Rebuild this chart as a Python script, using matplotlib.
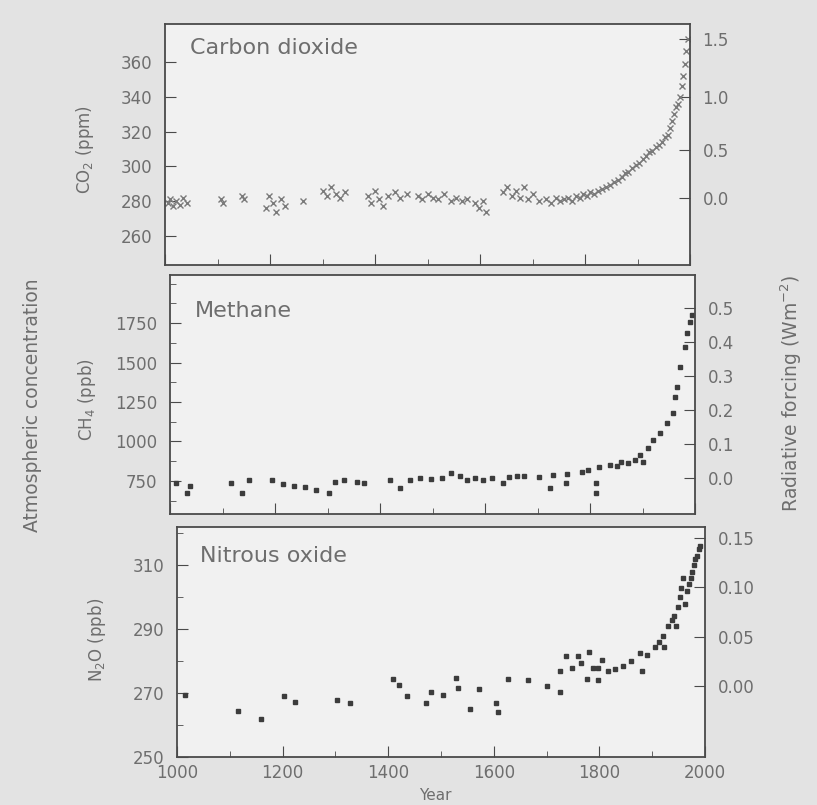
import numpy as np
import matplotlib
matplotlib.use("Agg")
import matplotlib.pyplot as plt
from matplotlib.ticker import MultipleLocator, FormatStrFormatter

# CO2 (ppm)
co2_year = [1005, 1010, 1015, 1020, 1028, 1035, 1042, 1106, 1110, 1147,
            1150, 1192, 1198, 1205, 1212, 1220, 1228, 1263, 1300, 1308,
            1316, 1325, 1333, 1342, 1386, 1393, 1400, 1408, 1415, 1425,
            1438, 1447, 1460, 1481, 1490, 1500, 1510, 1520, 1532, 1545,
            1555, 1565, 1575, 1590, 1598, 1605, 1612, 1644, 1652, 1660,
            1668, 1676, 1684, 1692, 1700, 1712, 1726, 1735, 1745, 1752,
            1760, 1768, 1775, 1782, 1790, 1797, 1803, 1810, 1818, 1825,
            1832, 1840, 1848, 1855, 1862, 1870, 1876, 1882, 1890, 1897,
            1903, 1910, 1916, 1922, 1928, 1935, 1940, 1946, 1952, 1958,
            1962, 1966, 1970, 1974, 1978, 1981, 1984, 1987, 1990, 1993, 1996]
co2_ppm = [279, 281, 277, 280, 278, 282, 279, 281, 279, 283,
           281, 276, 283, 279, 274, 281, 277, 280, 286, 283,
           288, 284, 282, 285, 283, 279, 286, 281, 277, 283,
           285, 282, 284, 283, 281, 284, 282, 281, 284, 280,
           282, 280, 281, 279, 276, 280, 274, 285, 288, 283,
           286, 282, 288, 281, 284, 280, 281, 279, 282, 280,
           281, 282, 280, 283, 282, 284, 283, 285, 284, 286,
           287, 288, 289, 291, 292, 294, 296, 297, 299, 301,
           302, 304, 306, 308, 309, 311, 312, 314, 317, 318,
           322, 326, 330, 334, 336, 340, 346, 352, 359, 366, 373]

# CH4 (ppb), middle panel
ch4_year = [1011, 1039, 1032, 1117, 1137, 1151, 1195, 1216, 1237, 1257,
            1278, 1302, 1315, 1332, 1356, 1370, 1419, 1439, 1457, 1477,
            1498, 1518, 1535, 1552, 1566, 1580, 1597, 1614, 1634, 1645,
            1661, 1675, 1702, 1723, 1730, 1754, 1757, 1784, 1797, 1811,
            1812, 1818, 1839, 1852, 1859, 1872, 1886, 1896, 1900, 1910,
            1920, 1934, 1947, 1958, 1961, 1965, 1972, 1980, 1985, 1990, 1995]
ch4_ppb = [738, 715, 672, 735, 672, 756, 756, 731, 718, 710,
           689, 676, 741, 754, 741, 735, 754, 706, 756, 767,
           760, 767, 798, 781, 756, 767, 754, 767, 735, 777,
           781, 781, 777, 706, 788, 735, 794, 809, 820, 735,
           672, 837, 851, 845, 872, 862, 883, 914, 872, 960,
           1010, 1052, 1115, 1178, 1284, 1347, 1474, 1600, 1690, 1760, 1800]

# N2O (ppb), bottom panel
n2o_year = [1016, 1115, 1159, 1203, 1224, 1303, 1328, 1410, 1421, 1435,
            1471, 1482, 1504, 1529, 1532, 1554, 1572, 1604, 1608, 1626,
            1665, 1701, 1726, 1726, 1737, 1748, 1759, 1766, 1777, 1780,
            1788, 1798, 1798, 1805, 1816, 1830, 1845, 1859, 1877, 1880,
            1891, 1906, 1913, 1920, 1923, 1930, 1938, 1941, 1945, 1948,
            1952, 1955, 1959, 1962, 1966, 1970, 1973, 1976, 1979, 1982,
            1985, 1988, 1991]
n2o_ppb = [269.5, 264.5, 261.8, 269, 267.2, 267.7, 266.8, 274.3, 272.5, 269.2,
           267, 270.5, 269.5, 274.7, 271.5, 265, 271.2, 267, 264, 274.3,
           274, 272.2, 270.5, 277, 281.5, 278, 281.5, 279.5, 274.5, 283,
           278, 278, 274, 280.5, 277, 277.5, 278.5, 280, 282.5, 277,
           282, 284.5, 286, 288, 284.5, 291, 293, 294, 291, 297,
           300, 303, 306, 298, 302, 304, 306, 308, 310, 312,
           313, 315, 316]

fig = plt.figure(figsize=(8.17, 8.05), dpi=100, facecolor="#e3e3e3")
W, H = 817.0, 805.0
gray = "#6e6e6e"
frame = "#4a4a4a"


def panel(left, top, right, bottom):
    ax = fig.add_axes([left / W, 1 - bottom / H, (right - left) / W, (bottom - top) / H])
    ax.set_facecolor("#f1f1f1")
    for s in ax.spines.values():
        s.set_color(frame)
        s.set_linewidth(1.3)
    ax.set_xlim(1000, 2000)
    ax.xaxis.set_major_locator(MultipleLocator(200))
    ax.xaxis.set_minor_locator(MultipleLocator(100))
    ax.tick_params(which="both", direction="in", colors=frame, labelcolor=gray,
                   labelsize=12, pad=9)
    ax.tick_params(which="major", length=8)
    ax.tick_params(which="minor", length=4)
    return ax


def right_axis(ax, fwd, inv, ticks, fmt):
    sec = ax.secondary_yaxis("right", functions=(fwd, inv))
    sec.set_yticks(ticks)
    sec.yaxis.set_major_formatter(FormatStrFormatter(fmt))
    sec.tick_params(direction="in", length=8, colors=frame, labelcolor=gray,
                    labelsize=12, pad=9)
    sec.spines["right"].set_visible(False)
    return sec


# Carbon dioxide
ax1 = panel(165, 24, 690, 265)
ax1.set_ylim(243.3, 381.8)
ax1.set_yticks([260, 280, 300, 320, 340, 360])
ax1.tick_params(axis="x", labelbottom=False)
ax1.plot(co2_year, co2_ppm, "x", ms=4, mew=1, color="#7a7a7a")
right_axis(ax1, lambda c: 5.35 * np.log(np.clip(c, 1, None) / 282.0),
           lambda f: 282.0 * np.exp(f / 5.35), [0.0, 0.5, 1.0, 1.5], "%.1f")
ax1.text(0.048, 0.90, "Carbon dioxide", transform=ax1.transAxes, fontsize=16,
         color=gray, va="center")

# Methane
ax2 = panel(170, 275, 695, 514)
ax2.set_ylim(540, 2055)
ax2.set_yticks([750, 1000, 1250, 1500, 1750])
ax2.yaxis.set_minor_locator(MultipleLocator(125))
ax2.tick_params(axis="x", labelbottom=False)
ax2.plot(ch4_year, ch4_ppb, "s", ms=3.2, color="#3c3c3c")
right_axis(ax2, lambda m: (m - 770.0) / 2150.0, lambda f: f * 2150.0 + 770.0,
           [0.0, 0.1, 0.2, 0.3, 0.4, 0.5], "%.1f")
ax2.text(0.048, 0.85, "Methane", transform=ax2.transAxes, fontsize=16,
         color=gray, va="center")

# Nitrous oxide
ax3 = panel(177, 527, 705, 757)
ax3.set_ylim(250, 322)
ax3.set_yticks([250, 270, 290, 310])
ax3.yaxis.set_minor_locator(MultipleLocator(10))
ax3.tick_params(axis="x", pad=5)
ax3.plot(n2o_year, n2o_ppb, "s", ms=3, color="#3c3c3c")
right_axis(ax3, lambda n: (n - 272.2) / 310.0, lambda f: f * 310.0 + 272.2,
           [0.0, 0.05, 0.10, 0.15], "%.2f")
ax3.text(0.044, 0.874, "Nitrous oxide", transform=ax3.transAxes, fontsize=16,
         color=gray, va="center")

# labels
fig.text(33 / W, 1 - 405 / H, "Atmospheric concentration", rotation=90,
         fontsize=13.5, color=gray, ha="center", va="center")
fig.text(791 / W, 1 - 393 / H, "Radiative forcing (Wm$^{-2}$)", rotation=90,
         fontsize=13.5, color=gray, ha="center", va="center")
fig.text(85 / W, 1 - 150 / H, "CO$_2$ (ppm)", rotation=90,
         fontsize=12, color=gray, ha="center", va="center")
fig.text(87 / W, 1 - 400 / H, "CH$_4$ (ppb)", rotation=90,
         fontsize=12, color=gray, ha="center", va="center")
fig.text(97 / W, 1 - 640 / H, "N$_2$O (ppb)", rotation=90,
         fontsize=12, color=gray, ha="center", va="center")
fig.text(435 / W, 1 - 795 / H, "Year", fontsize=11, color=gray,
         ha="center", va="center")

fig.savefig("out.png", dpi=100, facecolor=fig.get_facecolor())
